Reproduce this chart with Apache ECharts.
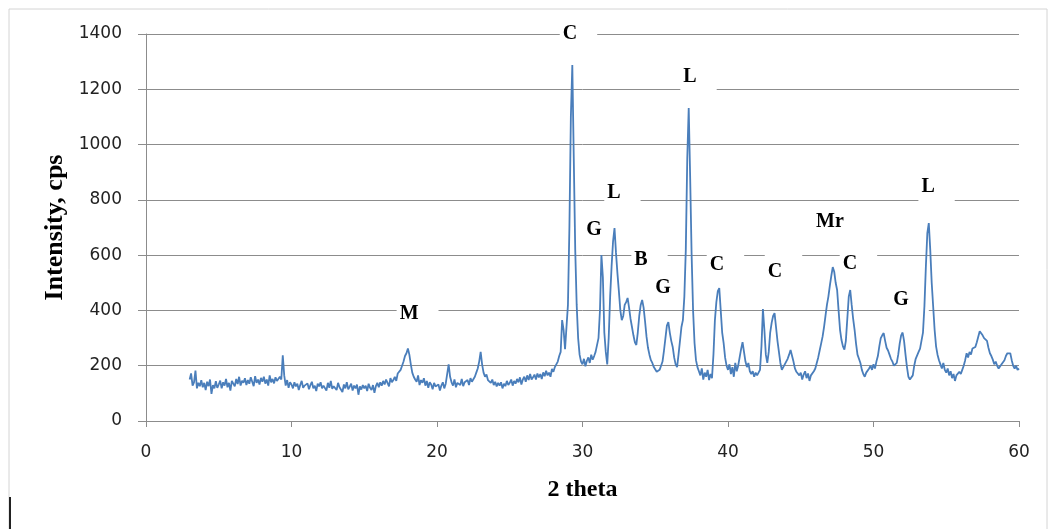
<!DOCTYPE html>
<html>
<head>
<meta charset="utf-8">
<script src="https://cdn.jsdelivr.net/npm/echarts@6/dist/echarts.min.js"></script>
<style>
html,body{margin:0;padding:0;background:#fff;}
#chart{width:1056px;height:529px;}
</style>
</head>
<body>
<div id="chart"></div>
<script>
// Scan grid: 2-theta from 3.0 to 60.0 deg, step 0.1
const scanStart = 3.0;
const scanStep = 0.1;
// Intensity (cps), one row per degree (x.0 ... x.9)
const intensity = [
  150,172,128,140,182,118,138,126,148,122, // 3
  138,112,142,126,150,98,130,118,144,120,  // 4
  132,146,118,140,128,152,122,138,110,145, // 5
  140,125,152,134,160,128,146,138,155,130, // 6
  148,135,158,142,126,162,138,150,132,156, // 7
  142,160,135,150,128,165,140,152,136,158, // 8
  145,138,160,150,238,165,128,148,120,140, // 9
  132,118,140,125,135,112,130,145,120,128, // 10
  122,136,115,130,142,118,128,108,135,125, // 11
  140,118,128,132,110,138,120,145,116,126, // 12
  130,112,138,122,128,105,132,118,140,115, // 13
  124,135,110,128,118,132,95,125,114,130,  // 14
  118,128,108,135,120,112,130,102,126,138, // 15
  122,140,128,145,132,150,138,125,155,140, // 16
  148,160,145,172,165,185,200,215,235,245, // 17
  262,240,205,175,160,150,142,165,130,148, // 18
  138,155,128,145,120,140,132,115,138,125, // 19
  120,132,110,128,140,118,135,142,205,160, // 20
  140,128,150,122,138,145,130,152,126,140, // 21
  135,148,130,155,142,138,160,175,190,215, // 22
  250,205,175,160,168,148,155,138,150,130, // 23
  142,125,138,128,140,118,135,126,145,130, // 24
  138,150,128,145,135,152,140,158,132,150, // 25
  160,142,165,148,170,150,158,168,150,172, // 26
  158,170,152,176,162,182,165,175,160,188, // 27
  178,195,205,215,235,250,365,330,260,340, // 28
  420,700,1100,1288,950,620,420,300,240,215, // 29
  205,225,198,218,230,210,240,222,235,250, // 30
  250,300,400,600,520,320,250,205,300,450, // 31
  560,650,698,610,535,470,400,365,380,420, // 32
  430,445,410,370,340,310,285,275,320,380, // 33
  420,438,410,360,305,265,240,220,210,195, // 34
  188,178,172,185,200,215,255,300,345,358, // 35
  320,290,268,230,205,195,240,290,340,365, // 36
  450,620,950,1132,880,600,400,282,220,195, // 37
  180,165,190,150,175,160,185,148,170,155, // 38
  240,365,430,470,481,400,320,282,230,200, // 39
  185,205,170,195,160,210,180,200,230,260, // 40
  285,250,215,195,210,180,170,180,160,175, // 41
  165,160,185,270,405,330,240,210,250,320, // 42
  355,380,390,340,290,250,210,185,195,205, // 43
  210,225,240,257,250,215,190,178,185,165, // 44
  175,150,168,180,155,172,145,165,158,180, // 45
  190,210,230,255,280,305,340,380,420,450, // 46
  490,525,557,540,500,474,400,330,293,270, // 47
  258,290,370,450,474,420,370,330,280,240, // 48
  225,210,185,170,160,175,168,190,200,185, // 49
  205,190,215,235,270,300,310,318,290,265, // 50
  255,240,225,215,200,195,210,240,280,310, // 51
  320,290,240,195,160,150,145,165,200,225, // 52
  232,250,262,268,320,415,560,680,716,620, // 53
  500,415,330,270,240,220,205,190,210,185, // 54
  175,190,165,180,155,170,145,165,160,178, // 55
  170,185,200,220,245,230,250,240,262,255, // 56
  268,285,305,325,330,310,300,295,290,265, // 57
  245,235,222,205,215,200,190,195,205,210, // 58
  220,235,245,240,245,220,200,190,200,185, // 59
  190                                       // 60
];

// Phase annotations (text, 2-theta, intensity)
const phaseText = ['C','L','L','G','B','G','C','C','Mr','C','L','G','M'];
const phaseX    = [29.14,37.39,32.16,30.79,34.02,35.53,39.24,43.23,47.01,48.38,53.75,51.89,18.08];
const phaseY    = [1404,1248,828,695,586,485,568,543,724,572,850,441,391];

const xTicks = [0,10,20,30,40,50,60];
const yTicks = [0,200,400,600,800,1000,1200,1400];

const lineData = intensity.map((v, i) => [+(scanStart + i * scanStep).toFixed(1), v]);
const labelData = phaseText.map((t, i) => ({ name: t, value: [phaseX[i], phaseY[i]] }));

const chart = echarts.init(document.getElementById('chart'), null, { renderer: 'canvas' });
const gray = '#8c8c8c';
chart.setOption({
  animation: false,
  backgroundColor: '#ffffff',
  graphic: [
    { type: 'rect', shape: { x: 9, y: 9, width: 1038, height: 540 },
      style: { fill: 'none', stroke: '#d4d4d4', lineWidth: 1 }, z: -1 },
    { type: 'rect', shape: { x: 9, y: 497, width: 2, height: 32 },
      style: { fill: '#222' } }
  ],
  grid: { left: 146, right: 37, top: 34, bottom: 108, containLabel: false },
  xAxis: {
    type: 'value', min: xTicks[0], max: xTicks[xTicks.length - 1], interval: 10,
    name: '2 theta', nameLocation: 'middle', nameGap: 57,
    nameTextStyle: { fontFamily: 'Liberation Serif', fontWeight: 'bold', fontSize: 24, color: '#000' },
    axisLine: { lineStyle: { color: gray, width: 1 } },
    axisTick: { show: true, length: 6, lineStyle: { color: gray } },
    axisLabel: { margin: 23, fontFamily: 'DejaVu Sans', fontSize: 17, color: '#222',
                 formatter: v => String(v) },
    splitLine: { show: false }
  },
  yAxis: {
    type: 'value', min: yTicks[0], max: yTicks[yTicks.length - 1], interval: 200,
    name: 'Intensity, cps', nameLocation: 'middle', nameGap: 72, nameRotate: 90,
    nameTextStyle: { fontFamily: 'Liberation Serif', fontWeight: 'bold', fontSize: 26, color: '#000' },
    axisLine: { show: true, lineStyle: { color: gray, width: 1 } },
    axisTick: { show: true, length: 8, lineStyle: { color: gray } },
    axisLabel: { margin: 24, fontFamily: 'DejaVu Sans', fontSize: 17, color: '#222',
                 formatter: v => String(v) },
    splitLine: { show: true, lineStyle: { color: gray, width: 1 } }
  },
  series: [
    {
      type: 'line', data: lineData, showSymbol: false, symbol: 'none',
      lineStyle: { color: '#4a7ebb', width: 1.8 }, z: 5
    },
    {
      type: 'scatter', data: labelData, symbolSize: 0, z: 2, silent: true, clip: false,
      itemStyle: { opacity: 1 },
      label: {
        show: true, position: 'inside', formatter: '{b}',
        fontFamily: 'Liberation Serif', fontWeight: 'bold', fontSize: 20, color: '#000',
        opacity: 1,
        backgroundColor: '#ffffff', padding: [7, 20, 6, 3], offset: [8.5, 0.5]
      },
      emphasis: { disabled: true }
    }
  ]
});
</script>
</body>
</html>
